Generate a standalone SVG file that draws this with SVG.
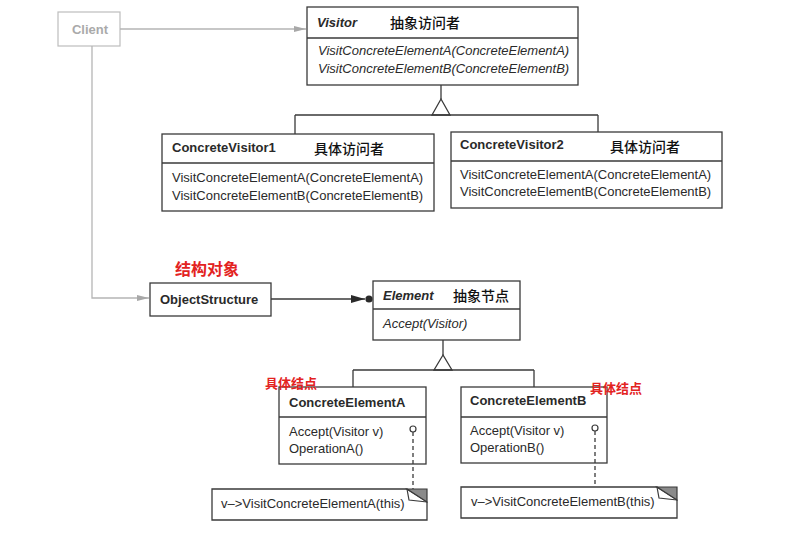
<svg xmlns="http://www.w3.org/2000/svg" width="801" height="559" viewBox="0 0 801 559">
  <style>
    .box { fill: #fff; stroke: #3a3a3a; stroke-width: 1.3; }
    .ghost { fill: #fff; stroke: #bdbdbd; stroke-width: 1.2; }
    .line { fill: none; stroke: #3a3a3a; stroke-width: 1.3; }
    .gline { fill: none; stroke: #b5b5b5; stroke-width: 1.3; }
    .dash { fill: none; stroke: #3a3a3a; stroke-width: 1.3; stroke-dasharray: 4 3; }
    .t { font-family: "Liberation Sans", Arial, sans-serif; font-size: 13px; fill: #2a2a2a; }
    .b { font-weight: bold; }
    .i { font-style: italic; }
    .cn { font-family: "Noto Sans CJK SC", sans-serif; font-size: 14px; fill: #111; font-weight: 500; }
    .red { font-family: "Noto Sans CJK SC", sans-serif; font-size: 13px; fill: #e3231f; font-weight: bold; }
    .gray { fill: #aaaaaa; }
  </style>
  <defs>
    <marker id="garrow" markerWidth="12" markerHeight="8" refX="12" refY="4" orient="auto" markerUnits="userSpaceOnUse">
      <path d="M0,1 L12,4 L0,7 Z" fill="#a8a8a8"/>
    </marker>
    <marker id="barrow" markerWidth="14" markerHeight="8" refX="14" refY="4" orient="auto" markerUnits="userSpaceOnUse">
      <path d="M0,0 L14,4 L0,8 Z" fill="#2a2a2a"/>
    </marker>
  </defs>

  <rect width="801" height="559" fill="#fff"/>

  <g id="client">
    <rect class="ghost" x="58" y="12" width="62" height="34"/>
    <text class="t gray" x="90" y="34" text-anchor="middle" style="font-weight:bold">Client</text>
  </g>

  <g id="visitor">
    <rect class="box" x="307" y="7" width="271" height="78"/>
    <path class="line" d="M307,38 H578"/>
    <text class="t b i" x="317" y="27">Visitor</text>
    <text class="cn" x="390" y="28">抽象访问者</text>
    <text class="t i" x="318" y="55">VisitConcreteElementA(ConcreteElementA)</text>
    <text class="t i" x="318" y="73">VisitConcreteElementB(ConcreteElementB)</text>
  </g>

  <g id="concrete-visitor-1">
    <rect class="box" x="162" y="134" width="272" height="77"/>
    <path class="line" d="M162,163 H434"/>
    <text class="t b" x="172" y="152">ConcreteVisitor1</text>
    <text class="cn" x="314" y="154">具体访问者</text>
    <text class="t" x="172" y="182">VisitConcreteElementA(ConcreteElementA)</text>
    <text class="t" x="172" y="200">VisitConcreteElementB(ConcreteElementB)</text>
  </g>

  <g id="concrete-visitor-2">
    <rect class="box" x="451" y="132" width="271" height="76"/>
    <path class="line" d="M451,161 H722"/>
    <text class="t b" x="460" y="149">ConcreteVisitor2</text>
    <text class="cn" x="610" y="152">具体访问者</text>
    <text class="t" x="460" y="179">VisitConcreteElementA(ConcreteElementA)</text>
    <text class="t" x="460" y="196">VisitConcreteElementB(ConcreteElementB)</text>
  </g>

  <g id="object-structure">
    <text class="red" x="175" y="275" style="font-size:16px">结构对象</text>
    <rect class="box" x="150" y="283" width="121" height="33"/>
    <text class="t b" x="160" y="304">ObjectStructure</text>
  </g>

  <g id="element">
    <rect class="box" x="373" y="281" width="147" height="59"/>
    <path class="line" d="M373,309 H520"/>
    <text class="t b i" x="383" y="300">Element</text>
    <text class="cn" x="453" y="301">抽象节点</text>
    <text class="t i" x="383" y="328">Accept(Visitor)</text>
  </g>

  <g id="concrete-element-a">
    <rect class="box" x="279" y="387" width="147" height="77"/>
    <path class="line" d="M279,417 H426"/>
    <text class="t b" x="289" y="407">ConcreteElementA</text>
    <text class="t" x="289" y="436">Accept(Visitor v)</text>
    <text class="t" x="289" y="453">OperationA()</text>
    <text class="red" x="265" y="388">具体结点</text>
  </g>

  <g id="concrete-element-b">
    <rect class="box" x="461" y="387" width="146" height="76"/>
    <path class="line" d="M461,417 H607"/>
    <text class="t b" x="470" y="405">ConcreteElementB</text>
    <text class="t" x="470" y="435">Accept(Visitor v)</text>
    <text class="t" x="470" y="452">OperationB()</text>
    <text class="red" x="590" y="393">具体结点</text>
  </g>

  <g id="note-a">
    <path class="box" d="M212,489 H407 L427,502 V520 H212 Z"/>
    <path d="M407,489 H427 V502 Z" fill="#8a8a8a" stroke="#3a3a3a" stroke-width="1.2"/>
    <path d="M407,489 L409,500 L427,502" fill="none" stroke="#3a3a3a" stroke-width="1.2"/>
    <text class="t" x="221" y="508">v–&gt;VisitConcreteElementA(this)</text>
  </g>

  <g id="note-b">
    <path class="box" d="M461,487 H657 L677,500 V518 H461 Z"/>
    <path d="M657,487 H677 V500 Z" fill="#8a8a8a" stroke="#3a3a3a" stroke-width="1.2"/>
    <path d="M657,487 L659,498 L677,500" fill="none" stroke="#3a3a3a" stroke-width="1.2"/>
    <text class="t" x="471" y="506">v–&gt;VisitConcreteElementB(this)</text>
  </g>

  <!-- connectors, drawn over the boxes -->
  <g id="connectors">
    <!-- Client references -->
    <path class="gline" d="M120,29 H306" marker-end="url(#garrow)"/>
    <path class="gline" d="M92,46 V298 H149" marker-end="url(#garrow)"/>
    <!-- Visitor inheritance -->
    <path class="line" d="M441,85 V99"/>
    <path class="box" d="M441,99 L432,115 L450,115 Z"/>
    <path class="line" d="M295,115 H598 M295,115 V134 M598,115 V132"/>
    <!-- ObjectStructure aggregates Elements -->
    <path class="line" d="M271,299 H365" marker-end="url(#barrow)"/>
    <circle cx="369" cy="299" r="3.6" fill="#2a2a2a"/>
    <!-- Element inheritance -->
    <path class="line" d="M443,340 V355"/>
    <path class="box" d="M443,355 L434,370 L452,370 Z"/>
    <path class="line" d="M353,370 H534 M353,370 V387 M534,370 V387"/>
    <!-- implementation notes -->
    <path class="dash" d="M413,432 V489"/>
    <circle cx="413" cy="429" r="3" fill="#fff" stroke="#3a3a3a" stroke-width="1.2"/>
    <path class="dash" d="M595,431 V487"/>
    <circle cx="595" cy="428" r="3" fill="#fff" stroke="#3a3a3a" stroke-width="1.2"/>
  </g>
</svg>
